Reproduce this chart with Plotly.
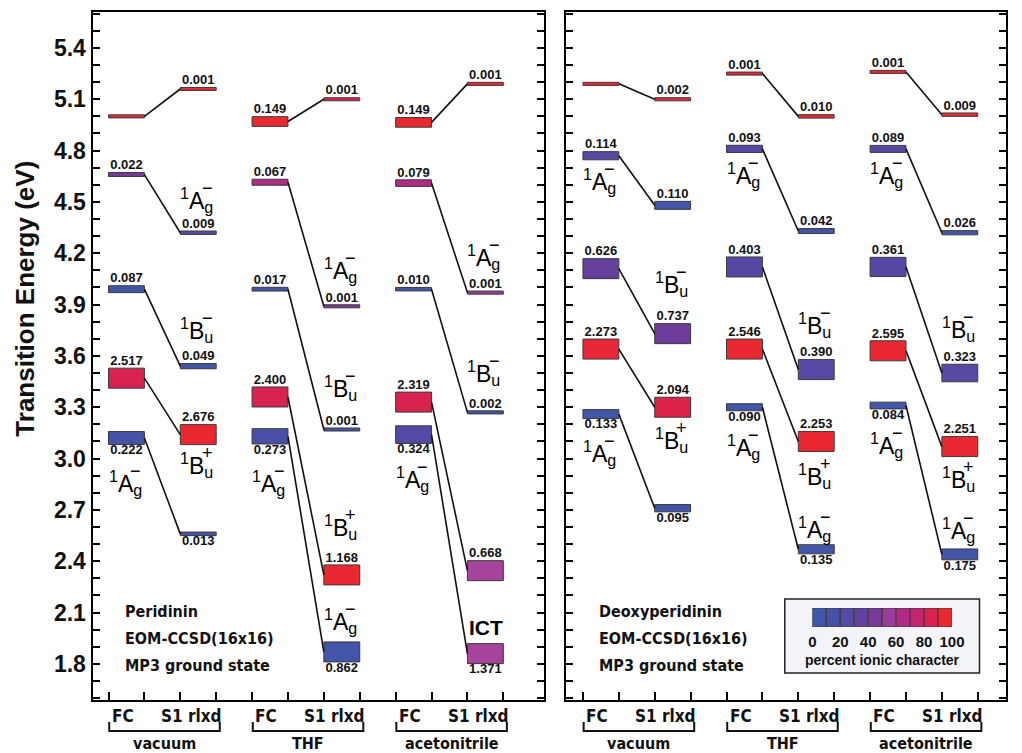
import plotly.graph_objects as go

FONT = "Liberation Sans Narrow, DejaVu Sans Condensed, Arial Narrow, Liberation Sans, Arial"
FONT_N = "Liberation Sans, Arial"

solvents = ["vacuum", "THF", "acetonitrile"]
col_labels = ["FC", "S1 rlxd"]

# ---------------- Peridinin (per solvent: vacuum, THF, acetonitrile) ----------------
per_fc_E = [[5.00, 4.66, 3.99, 3.47, 3.12],
            [4.97, 4.615, 3.99, 3.36, 3.13],
            [4.965, 4.61, 3.99, 3.33, 3.14]]
per_fc_f = [[None, 0.022, 0.087, 2.517, 0.222],
            [0.149, 0.067, 0.017, 2.400, 0.273],
            [0.149, 0.079, 0.010, 2.319, 0.324]]
per_fc_ion = [[95, 45, 10, 85, 15],
              [95, 65, 10, 85, 20],
              [95, 65, 10, 85, 25]]
per_s1_E = [[5.16, 4.32, 3.54, 3.14, 2.56],
            [5.10, 3.89, 3.17, 2.32, 1.87],
            [5.19, 3.97, 3.27, 2.345, 1.86]]
per_s1_f = [[0.001, 0.009, 0.049, 2.676, 0.013],
            [0.001, 0.001, 0.001, 1.168, 0.862],
            [0.001, 0.001, 0.002, 0.668, 1.371]]
per_s1_ion = [[95, 30, 8, 95, 8],
              [85, 45, 10, 95, 12],
              [95, 55, 10, 58, 58]]

# ---------------- Deoxyperidinin ----------------
deo_fc_E = [[5.19, 4.77, 4.11, 3.64, 3.26],
            [5.25, 4.81, 4.12, 3.64, 3.30],
            [5.26, 4.81, 4.12, 3.63, 3.31]]
deo_fc_f = [[None, 0.114, 0.626, 2.273, 0.133],
            [0.001, 0.093, 0.403, 2.546, 0.090],
            [0.001, 0.089, 0.361, 2.595, 0.084]]
deo_fc_ion = [[95, 28, 38, 93, 10],
              [95, 28, 28, 95, 10],
              [95, 28, 28, 95, 10]]
deo_s1_E = [[5.10, 4.48, 3.73, 3.30, 2.71],
            [5.00, 4.33, 3.52, 3.10, 2.47],
            [5.01, 4.32, 3.50, 3.07, 2.44]]
deo_s1_f = [[0.002, 0.110, 0.737, 2.094, 0.095],
            [0.010, 0.042, 0.390, 2.253, 0.135],
            [0.009, 0.026, 0.323, 2.251, 0.175]]
deo_s1_ion = [[95, 12, 42, 88, 10],
              [95, 12, 27, 95, 10],
              [95, 12, 27, 95, 10]]

legend_vals = [5, 15, 25, 35, 45, 55, 65, 75, 85, 95]
legend_ticks = [0, 20, 40, 60, 80, 100]

colorscale = [[0.0, "#3a5cab"], [0.2, "#4a4ea6"], [0.4, "#683f9c"], [0.5, "#873395"],
              [0.58, "#a6439a"], [0.65, "#b02a86"], [0.75, "#c42470"], [0.85, "#d8224f"],
              [0.92, "#e6263a"], [1.0, "#f02a24"]]

W, H = 1022, 753
Y0, Y1 = 1.589, 5.610
ydom = [1 - 700 / H, 1 - 12 / H]
PX_PER_EV = (ydom[1] - ydom[0]) * H / (Y1 - Y0)


def thick(f):
    v = 0.001 if f is None else f
    return min(3 + 45 * v, 20) / PX_PER_EV


def py(px):
    return 1 - px / H


fig = go.Figure()

panels = [
    ("x", "y", per_fc_E, per_fc_f, per_fc_ion, per_s1_E, per_s1_f, per_s1_ion),
    ("x2", "y2", deo_fc_E, deo_fc_f, deo_fc_ion, deo_s1_E, deo_s1_f, deo_s1_ion),
]

for xa, ya, fcE, fcF, fcI, s1E, s1F, s1I in panels:
    bx, bbase, bh, bc = [], [], [], []
    lx, ly = [], []
    tx_a, ty_a, tt_a = [], [], []
    tx_b, ty_b, tt_b = [], [], []
    for s in range(3):
        cf, cs_ = 2 * s, 2 * s + 1
        for i in range(5):
            for col, E, f, ion in ((cf, fcE[s][i], fcF[s][i], fcI[s][i]),
                                   (cs_, s1E[s][i], s1F[s][i], s1I[s][i])):
                h = thick(f)
                bx.append(col)
                bbase.append(E - h / 2)
                bh.append(h)
                bc.append(ion)
                if f is not None:
                    if i == 4:
                        tx_b.append(col); ty_b.append(E - h / 2); tt_b.append(f"{f:.3f}")
                    else:
                        tx_a.append(col); ty_a.append(E + h / 2); tt_a.append(f"{f:.3f}")
            lx += [cf + 0.25, cs_ - 0.25, None]
            ly += [fcE[s][i], s1E[s][i], None]
    fig.add_trace(go.Scatter(x=lx, y=ly, mode="lines", line=dict(color="#111", width=1.6),
                             xaxis=xa, yaxis=ya, showlegend=False, hoverinfo="skip"))
    fig.add_trace(go.Bar(x=bx, base=bbase, y=bh, width=0.5, xaxis=xa, yaxis=ya,
                         marker=dict(color=bc, colorscale=colorscale, cmin=0, cmax=100,
                                     line=dict(color="#3a3a3a", width=1)),
                         showlegend=False, hoverinfo="skip"))
    fig.add_trace(go.Scatter(x=tx_a, y=ty_a, text=tt_a, mode="text", textposition="top center",
                             textfont=dict(size=13, family=FONT_N, color="#111", weight="bold"),
                             xaxis=xa, yaxis=ya, showlegend=False, hoverinfo="skip"))
    fig.add_trace(go.Scatter(x=tx_b, y=ty_b, text=tt_b, mode="text", textposition="bottom center",
                             textfont=dict(size=13, family=FONT_N, color="#111", weight="bold"),
                             xaxis=xa, yaxis=ya, showlegend=False, hoverinfo="skip"))

# legend colour strip
fig.add_trace(go.Bar(x=legend_vals, y=[1] * len(legend_vals), width=10, xaxis="x3", yaxis="y3",
                     marker=dict(color=legend_vals, colorscale=colorscale, cmin=0, cmax=100,
                                 line=dict(color="#3a3a3a", width=1)),
                     showlegend=False, hoverinfo="skip"))

# state labels (panel, column, energy of label centre, letter, subscript, sign)
state_labels = [
    ("x", 1, 4.51, "A", "g", "−"), ("x", 1, 3.75, "B", "u", "−"), ("x", 1, 2.96, "B", "u", "+"),
    ("x", 0, 2.86, "A", "g", "−"),
    ("x", 3, 4.10, "A", "g", "−"), ("x", 3, 3.41, "B", "u", "−"), ("x", 2, 2.86, "A", "g", "−"),
    ("x", 3, 2.60, "B", "u", "+"), ("x", 3, 2.05, "A", "g", "−"),
    ("x", 5, 4.18, "A", "g", "−"), ("x", 5, 3.50, "B", "u", "−"), ("x", 4, 2.88, "A", "g", "−"),
    ("x2", 0, 4.62, "A", "g", "−"), ("x2", 1, 4.02, "B", "u", "−"), ("x2", 1, 3.11, "B", "u", "+"),
    ("x2", 0, 3.03, "A", "g", "−"),
    ("x2", 2, 4.66, "A", "g", "−"), ("x2", 3, 3.78, "B", "u", "−"), ("x2", 2, 3.07, "A", "g", "−"),
    ("x2", 3, 2.90, "B", "u", "+"), ("x2", 3, 2.59, "A", "g", "−"),
    ("x2", 4, 4.66, "A", "g", "−"), ("x2", 5, 3.76, "B", "u", "−"), ("x2", 4, 3.08, "A", "g", "−"),
    ("x2", 5, 2.88, "B", "u", "+"), ("x2", 5, 2.58, "A", "g", "−"),
]
for xa, col, E, let, sub, sign in state_labels:
    ya = "y" if xa == "x" else "y2"
    fig.add_annotation(x=col - 0.25, y=E, xref=xa, yref=ya, xanchor="left", yanchor="middle",
                       xshift=-2, text=f"<sup>1</sup>{let}<sub>{sub}</sub>", showarrow=False,
                       font=dict(size=23, family=FONT_N, color="black"))
    fig.add_annotation(x=col - 0.25, y=E, xref=xa, yref=ya, xanchor="center", yanchor="middle",
                       xshift=27, yshift=12, text=sign, showarrow=False,
                       font=dict(size=18, family=FONT_N, color="black"))

fig.add_annotation(x=4.75, y=2.01, xref="x", yref="y", xanchor="left", yanchor="middle",
                   text="<b>ICT</b>", showarrow=False, font=dict(size=21, family=FONT_N, color="black"))

# method text
method_lines = ["EOM-CCSD(16x16)", "MP3 ground state"]
for xa, name in (("x", "Peridinin"), ("x2", "Deoxyperidinin")):
    for txt, ypx in zip([name] + method_lines, (611, 638, 665)):
        fig.add_annotation(x=-0.05, y=py(ypx), xref=xa, yref="paper", xanchor="left",
                           yanchor="middle", showarrow=False, text=f"<b>{txt}</b>",
                           font=dict(size=16, family=FONT, color="#111"))

# bottom category labels and brackets
for xa in ("x", "x2"):
    for s, solv in enumerate(solvents):
        c = 2 * s
        fig.add_annotation(x=c - 0.05, y=py(716), xref=xa, yref="paper", showarrow=False,
                           xanchor="center", yanchor="middle",
                           text=f"<b>{col_labels[0]}</b>", font=dict(size=17, family=FONT, color="#111"))
        fig.add_annotation(x=c + 0.9, y=py(716), xref=xa, yref="paper", showarrow=False,
                           xanchor="center", yanchor="middle",
                           text=f"<b>{col_labels[1]}</b>", font=dict(size=17, family=FONT, color="#111"))
        fig.add_annotation(x=c + 0.53, y=py(743), xref=xa, yref="paper", showarrow=False,
                           xanchor="center", yanchor="middle",
                           text=f"<b>{solv}</b>", font=dict(size=16, family=FONT, color="#111"))
        yb, yt = py(731), py(722)
        fig.add_shape(type="path", xref=xa, yref="paper",
                      path=f"M {c - 0.24},{yt} L {c - 0.24},{yb} L {c + 1.3},{yb} L {c + 1.3},{yt}",
                      line=dict(color="#111", width=2))

# legend box
fig.add_shape(type="rect", xref="paper", yref="paper", x0=794 / W, x1=992 / W,
              y0=py(673), y1=py(599), fillcolor="#f3f4f8",
              line=dict(color="#222", width=1.5), layer="below")
fig.add_annotation(x=893 / W, y=py(660), xref="paper", yref="paper", showarrow=False,
                   xanchor="center", yanchor="middle",
                   text="<b>percent ionic character</b>", font=dict(size=14, family=FONT_N, color="#111"))

edge_ticks = [c + d for c in range(6) for d in (-0.25, 0.25)]
xcommon = dict(showgrid=False, zeroline=False, showline=True, linecolor="black", linewidth=2,
               mirror=True, ticks="inside", ticklen=8, tickwidth=1.5, tickcolor="black",
               tickvals=edge_ticks, showticklabels=False)
ycommon = dict(showgrid=False, zeroline=False, showline=True, linecolor="black", linewidth=2,
               mirror="allticks", ticks="inside", ticklen=7, tickwidth=1.5, tickcolor="black",
               range=[Y0, Y1], domain=ydom, tick0=1.8, dtick=0.3,
               minor=dict(dtick=0.1, ticks="inside", ticklen=7, tickwidth=1.5, tickcolor="black"))

fig.update_layout(
    width=W, height=H, margin=dict(l=0, r=0, t=0, b=0),
    paper_bgcolor="white", plot_bgcolor="rgba(0,0,0,0)",
    barmode="overlay", showlegend=False,
    xaxis=dict(**xcommon, anchor="y", domain=[90 / W, 549 / W], range=[-0.473, 5.815]),
    yaxis=dict(**ycommon, anchor="x", showticklabels=True,
               tickfont=dict(size=23, family=FONT_N, color="#111", weight="bold"), tickformat=".1f"),
    xaxis2=dict(**xcommon, anchor="y2", domain=[571 / W, 1019 / W], range=[-0.493, 5.644]),
    yaxis2=dict(**ycommon, anchor="x2", showticklabels=False),
    xaxis3=dict(domain=[822 / W, 964 / W], range=[0, 100], anchor="y3", showgrid=False,
                zeroline=False, showline=False, ticks="", tickvals=legend_ticks,
                ticklabelstandoff=4,
                tickfont=dict(size=15, family=FONT_N, color="#111", weight="bold")),
    yaxis3=dict(domain=[py(627), py(608)], range=[0, 1], anchor="x3", showgrid=False,
                zeroline=False, showline=False, showticklabels=False),
)

fig.add_annotation(x=21 / W, y=py(299), xref="paper", yref="paper", showarrow=False,
                   xanchor="center", yanchor="middle",
                   textangle=-90, text="<b>Transition Energy (eV)</b>",
                   font=dict(size=26, family=FONT_N, color="#111"))

fig.write_html("out.html")
